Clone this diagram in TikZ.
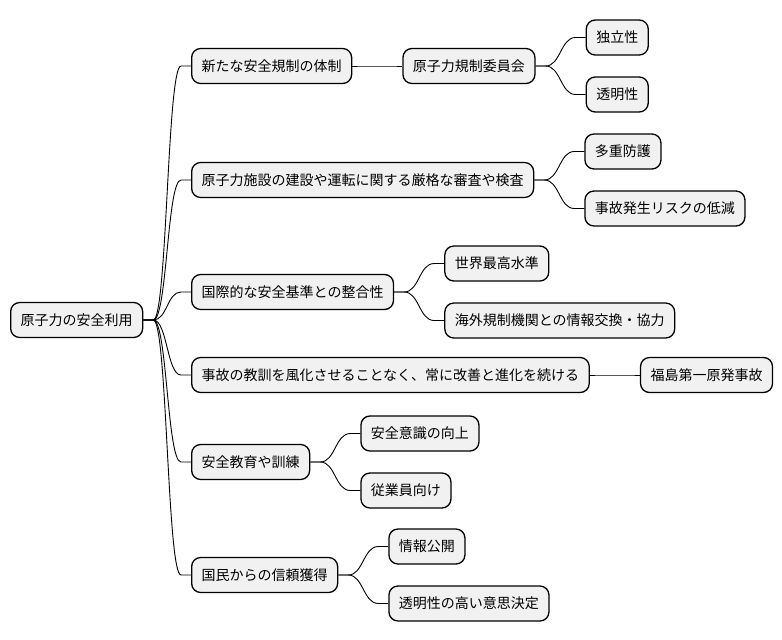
\documentclass[tikz,border=0pt]{standalone}
\usepackage{fontspec}
\newfontfamily\cjk{Noto Sans CJK JP}
\usetikzlibrary{positioning, calc}
\definecolor{boxfill}{HTML}{F1F1F1}

\begin{document}
\begin{tikzpicture}[x=1pt, y=-1pt,
	topic/.style={draw=black, line width=1.3pt, fill=boxfill, rounded corners=9pt, inner sep=0pt, inner xsep=10pt, minimum height=35pt, text height=12.3pt, text depth=1.7pt, font=\cjk\fontsize{14}{16}\selectfont},
	link/.style={line width=0.9pt, black}]
	\useasboundingbox (0,0) rectangle (782,640);

	% 中心テーマ
	\node[topic, anchor=west] (root) at (10,320) {原子力の安全利用};

	% 第一階層
	\node[topic, anchor=west] (taisei) at (191,66) {新たな安全規制の体制};
	\node[topic, anchor=west] (shinsa) at (191,180) {原子力施設の建設や運転に関する厳格な審査や検査};
	\node[topic, anchor=west] (kijun) at (191,292) {国際的な安全基準との整合性};
	\node[topic, anchor=west] (kyokun) at (191,375) {事故の教訓を風化させることなく、常に改善と進化を続ける};
	\node[topic, anchor=west] (kyoiku) at (191,462) {安全教育や訓練};
	\node[topic, anchor=west] (shinrai) at (191,575) {国民からの信頼獲得};

	% 第二階層
	\node[topic, right=50pt of taisei] (iinkai) {原子力規制委員会};
	\node[topic, right=50pt of iinkai, yshift=28.5pt] (dokuritsu) {独立性};
	\node[topic, right=50pt of iinkai, yshift=-28.5pt] (tomei) {透明性};
	\node[topic, right=50pt of shinsa, yshift=28.5pt] (tajuu) {多重防護};
	\node[topic, right=50pt of shinsa, yshift=-28.5pt] (risk) {事故発生リスクの低減};
	\node[topic, right=50pt of kijun, yshift=28.5pt] (saiko) {世界最高水準};
	\node[topic, right=50pt of kijun, yshift=-28.5pt] (kaigai) {海外規制機関との情報交換・協力};
	\node[topic, right=50pt of kyokun] (fukushima) {福島第一原発事故};
	\node[topic, right=50pt of kyoiku, yshift=28.5pt] (ishiki) {安全意識の向上};
	\node[topic, right=50pt of kyoiku, yshift=-28.5pt] (jugyoin) {従業員向け};
	\node[topic, right=50pt of shinrai, yshift=28.5pt] (kokai) {情報公開};
	\node[topic, right=50pt of shinrai, yshift=-28.5pt] (kettei) {透明性の高い意思決定};

	% 接続線
	\foreach \a/\b in {root/taisei, root/shinsa, root/kijun, root/kyokun, root/kyoiku, root/shinrai,
		taisei/iinkai, iinkai/dokuritsu, iinkai/tomei, shinsa/tajuu, shinsa/risk, kijun/saiko, kijun/kaigai,
		kyokun/fukushima, kyoiku/ishiki, kyoiku/jugyoin, shinrai/kokai, shinrai/kettei}
		\draw[link] let \p1=(\a.east), \p2=(\b.west) in
			(\p1) -- (\x1+10pt,\y1) .. controls ({(\x1+\x2)/2},\y1) and ({(\x1+\x2)/2},\y2) .. (\x2-10pt,\y2) -- (\p2);
\end{tikzpicture}
\end{document}
